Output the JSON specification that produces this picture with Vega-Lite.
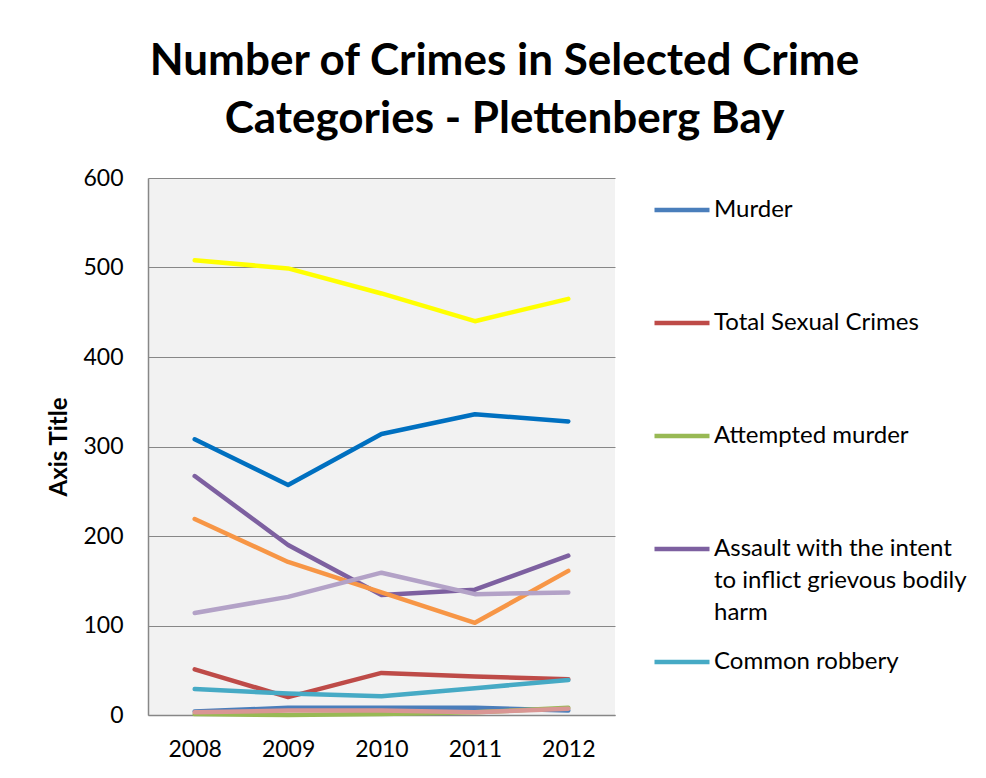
{
  "$schema": "https://vega.github.io/schema/vega-lite/v6.json",
  "width": 467,
  "height": 537,
  "autosize": "none",
  "padding": {"left": 148, "top": 178, "right": 371, "bottom": 63},
  "background": "white",
  "title": {
    "text": ["Number of Crimes in Selected Crime", "Categories - Plettenberg Bay"],
    "font": "Lato",
    "fontSize": 44,
    "fontWeight": "bold",
    "color": "#000000",
    "lineHeight": 58,
    "anchor": "middle",
    "frame": "group",
    "dx": 123,
    "offset": 25
  },
  "data": {
    "values": [
      {"year": "2008", "series": "Murder", "value": 4},
      {"year": "2009", "series": "Murder", "value": 8},
      {"year": "2010", "series": "Murder", "value": 8},
      {"year": "2011", "series": "Murder", "value": 8},
      {"year": "2012", "series": "Murder", "value": 5},
      {"year": "2008", "series": "Total Sexual Crimes", "value": 51},
      {"year": "2009", "series": "Total Sexual Crimes", "value": 20},
      {"year": "2010", "series": "Total Sexual Crimes", "value": 47},
      {"year": "2011", "series": "Total Sexual Crimes", "value": 43},
      {"year": "2012", "series": "Total Sexual Crimes", "value": 40},
      {"year": "2008", "series": "Attempted murder", "value": 1},
      {"year": "2009", "series": "Attempted murder", "value": 0},
      {"year": "2010", "series": "Attempted murder", "value": 1},
      {"year": "2011", "series": "Attempted murder", "value": 3},
      {"year": "2012", "series": "Attempted murder", "value": 8},
      {"year": "2008", "series": "Assault with the intent to inflict grievous bodily harm", "value": 267},
      {"year": "2009", "series": "Assault with the intent to inflict grievous bodily harm", "value": 190},
      {"year": "2010", "series": "Assault with the intent to inflict grievous bodily harm", "value": 134},
      {"year": "2011", "series": "Assault with the intent to inflict grievous bodily harm", "value": 140},
      {"year": "2012", "series": "Assault with the intent to inflict grievous bodily harm", "value": 178},
      {"year": "2008", "series": "Common robbery", "value": 29},
      {"year": "2009", "series": "Common robbery", "value": 24},
      {"year": "2010", "series": "Common robbery", "value": 21},
      {"year": "2011", "series": "Common robbery", "value": 30},
      {"year": "2012", "series": "Common robbery", "value": 39},
      {"year": "2008", "series": "Malicious damage to property", "value": 219},
      {"year": "2009", "series": "Malicious damage to property", "value": 171},
      {"year": "2010", "series": "Malicious damage to property", "value": 137},
      {"year": "2011", "series": "Malicious damage to property", "value": 103},
      {"year": "2012", "series": "Malicious damage to property", "value": 161},
      {"year": "2008", "series": "Common assault", "value": 308},
      {"year": "2009", "series": "Common assault", "value": 257},
      {"year": "2010", "series": "Common assault", "value": 314},
      {"year": "2011", "series": "Common assault", "value": 336},
      {"year": "2012", "series": "Common assault", "value": 328},
      {"year": "2008", "series": "Burglary at non-residential premises", "value": 114},
      {"year": "2009", "series": "Burglary at non-residential premises", "value": 132},
      {"year": "2010", "series": "Burglary at non-residential premises", "value": 159},
      {"year": "2011", "series": "Burglary at non-residential premises", "value": 135},
      {"year": "2012", "series": "Burglary at non-residential premises", "value": 137},
      {"year": "2008", "series": "Burglary at residential premises", "value": 508},
      {"year": "2009", "series": "Burglary at residential premises", "value": 499},
      {"year": "2010", "series": "Burglary at residential premises", "value": 471},
      {"year": "2011", "series": "Burglary at residential premises", "value": 440},
      {"year": "2012", "series": "Burglary at residential premises", "value": 465},
      {"year": "2008", "series": "Arson", "value": 3},
      {"year": "2009", "series": "Arson", "value": 5},
      {"year": "2010", "series": "Arson", "value": 5},
      {"year": "2011", "series": "Arson", "value": 3},
      {"year": "2012", "series": "Arson", "value": 7}
    ]
  },
  "mark": {"type": "line", "strokeWidth": 4.5, "strokeCap": "round", "strokeJoin": "round"},
  "encoding": {
    "x": {
      "field": "year",
      "type": "ordinal",
      "scale": {"type": "point", "padding": 0.5},
      "axis": {
        "title": null,
        "labelAngle": 0,
        "labelFont": "Lato",
        "labelFontSize": 23,
        "labelColor": "#000000",
        "labelPadding": 23,
        "ticks": false,
        "domainColor": "#878787",
        "domainWidth": 1.5,
        "grid": false
      }
    },
    "y": {
      "field": "value",
      "type": "quantitative",
      "scale": {"domain": [0, 600], "nice": false},
      "axis": {
        "title": "Axis Title",
        "titleFont": "Lato",
        "titleFontSize": 24,
        "titleFontWeight": "bold",
        "titleColor": "#000000",
        "titlePadding": 11,
        "values": [0, 100, 200, 300, 400, 500, 600],
        "labelFont": "Lato",
        "labelFontSize": 23,
        "labelColor": "#000000",
        "labelPadding": 25,
        "ticks": false,
        "domainColor": "#878787",
        "domainWidth": 1.5,
        "gridColor": "#878787",
        "gridWidth": 1
      }
    },
    "color": {
      "field": "series",
      "type": "nominal",
      "scale": {
        "domain": ["Murder", "Total Sexual Crimes", "Attempted murder", "Assault with the intent to inflict grievous bodily harm", "Common robbery", "Malicious damage to property", "Common assault", "Burglary at non-residential premises", "Burglary at residential premises", "Arson"],
        "range": ["#4A7EBB", "#BE4B48", "#98B954", "#7D60A0", "#46AAC5", "#F79646", "#0070C0", "#B3A2C7", "#FFFF00", "#D99694"]
      },
      "legend": {
        "title": null,
        "values": ["Murder", "Total Sexual Crimes", "Attempted murder", "Assault with the intent to inflict grievous bodily harm", "Common robbery"],
        "orient": "none",
        "legendX": 504,
        "legendY": 2,
        "gridAlign": "all",
        "symbolType": "stroke",
        "symbolSize": 3025,
        "symbolStrokeWidth": 4.5,
        "labelFont": "Lato",
        "labelFontSize": 24,
        "labelColor": "#000000",
        "labelOffset": 2,
        "labelLimit": 400,
        "rowPadding": 7,
        "labelExpr": "datum.label == 'Assault with the intent to inflict grievous bodily harm' ? ['Assault with the intent', 'to inflict grievous bodily', 'harm'] : datum.label",
        "encode": {"labels": {"update": {"lineHeight": {"value": 32}}}}
      }
    }
  },
  "config": {
    "view": {"fill": "#F2F2F2", "stroke": null}
  }
}
